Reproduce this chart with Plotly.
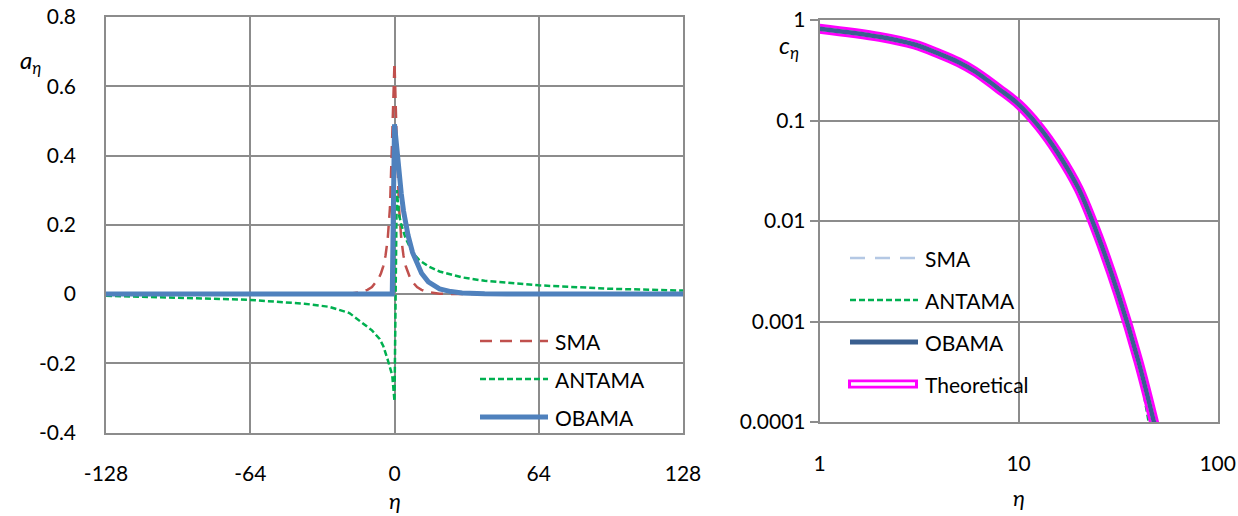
import plotly.graph_objects as go

W, H = 1238, 516

# ---------------- Left chart data (a_eta vs eta) ----------------
sma_eta = [-128, -25, -20, -15, -12, -10, -8, -7, -6, -5, -4, -3, -2, -1, 0,
           1, 2, 3, 4, 5, 6, 7, 8, 10, 12, 15, 20, 25, 128]
sma_a = [0, 0, 0.001, 0.005, 0.012, 0.02, 0.035, 0.045, 0.06, 0.08, 0.11, 0.16, 0.25, 0.44, 0.67,
         0.44, 0.25, 0.16, 0.11, 0.08, 0.06, 0.045, 0.035, 0.02, 0.012, 0.005, 0.001, 0, 0]

antama_eta = [-128, -96, -64, -40, -29, -20, -14, -10, -6.6, -5, -3, -2, -1, 0,
              1, 2, 3, 5, 8, 11, 15, 20, 30, 40, 64, 96, 128]
antama_a = [-0.005, -0.01, -0.017, -0.028, -0.037, -0.055, -0.085, -0.105, -0.13, -0.15, -0.19, -0.21, -0.235, -0.31,
            0.30, 0.23, 0.2, 0.16, 0.12, 0.098, 0.08, 0.065, 0.048, 0.038, 0.025, 0.015, 0.01]

obama_eta = [-128, -1, 0, 1, 2, 3, 4, 5, 6, 8, 10, 12, 15, 20, 25, 30, 40, 50, 128]
obama_a = [0, 0, 0.49, 0.41, 0.345, 0.29, 0.24, 0.2, 0.17, 0.12, 0.085, 0.06, 0.035, 0.015, 0.007, 0.003, 0.0005, 0, 0]

left_xticks = [-128, -64, 0, 64, 128]
left_yticks = [-0.4, -0.2, 0, 0.2, 0.4, 0.6, 0.8]
left_ytext = ["-0.4", "-0.2", "0", "0.2", "0.4", "0.6", "0.8"]

# ---------------- Right chart data (c_eta vs eta, log-log) ----------------
theo_eta = [1, 2, 3, 4, 5, 6, 7, 8, 10, 12.6, 15.8, 20, 25, 31.6, 40, 50]
theo_c = [0.82, 0.68, 0.57, 0.46, 0.38, 0.31, 0.25, 0.205, 0.145, 0.088, 0.047, 0.021, 0.0072,
          0.0019, 0.0004, 0.00007]
sma_c = theo_c
obama_c = theo_c
antama_r_eta = [1, 2, 3, 4, 5, 6, 7, 8, 10, 12.6, 15.8, 20, 25, 31.6, 40, 45, 48]
antama_c = [0.82, 0.68, 0.57, 0.46, 0.38, 0.31, 0.25, 0.205, 0.145, 0.088, 0.047, 0.021, 0.0072,
            0.0019, 0.00035, 0.0001, 0.00005]

right_xticks = [1, 10, 100]
right_xtext = ["1", "10", "100"]
right_yticks = [0.0001, 0.001, 0.01, 0.1, 1]
right_ytext = ["0.0001", "0.001", "0.01", "0.1", "1"]

FONT = "Lato"
GRID = "#8c8c8c"
RED = "#C0504D"
GREEN = "#00B050"
BLUE = "#4F81BD"
DBLUE = "#3A5F8F"
LBLUE = "#B4C8E4"
MAG = "#FF00FF"

fig = go.Figure()

# left traces
fig.add_trace(go.Scatter(x=sma_eta, y=sma_a, mode="lines", name="SMA",
                         line=dict(color=RED, width=2.5, dash="12px,8px"), xaxis="x", yaxis="y"))
fig.add_trace(go.Scatter(x=antama_eta, y=antama_a, mode="lines", name="ANTAMA",
                         line=dict(color=GREEN, width=2.5, dash="6px,3px"), xaxis="x", yaxis="y"))
fig.add_trace(go.Scatter(x=obama_eta, y=obama_a, mode="lines", name="OBAMA",
                         line=dict(color=BLUE, width=5), xaxis="x", yaxis="y"))

# right traces
sp = dict(shape="spline", smoothing=1.0)
fig.add_trace(go.Scatter(x=theo_eta, y=sma_c, mode="lines", name="SMA",
                         line=dict(color=LBLUE, width=2.5, dash="15px,10px", **sp), xaxis="x2", yaxis="y2"))
fig.add_trace(go.Scatter(x=antama_r_eta, y=antama_c, mode="lines", name="ANTAMA",
                         line=dict(color=GREEN, width=2.5, dash="6px,3px", **sp), xaxis="x2", yaxis="y2"))
fig.add_trace(go.Scatter(x=theo_eta, y=theo_c, mode="lines", name="Theoretical",
                         line=dict(color=MAG, width=10, **sp), xaxis="x2", yaxis="y2"))
fig.add_trace(go.Scatter(x=theo_eta, y=theo_c, mode="lines", name="Theoretical inner",
                         line=dict(color="white", width=4, **sp), xaxis="x2", yaxis="y2"))
fig.add_trace(go.Scatter(x=theo_eta, y=obama_c, mode="lines", name="OBAMA",
                         line=dict(color=DBLUE, width=4.5, **sp), xaxis="x2", yaxis="y2"))


def px(x):
    return x / W


def py(y):
    return 1 - y / H


tickfont = dict(family=FONT, size=21, color="black")
axis_common = dict(showgrid=True, gridcolor=GRID, gridwidth=1.5, zeroline=False,
                   showline=True, mirror=True, linecolor=GRID, linewidth=1.5,
                   tickfont=tickfont, automargin=False)

fig.update_layout(
    width=W, height=H, margin=dict(l=0, r=0, t=0, b=0),
    paper_bgcolor="white", plot_bgcolor="white", showlegend=False,
    xaxis=dict(domain=[px(106), px(683)], range=[-128, 128], tickmode="array",
               tickvals=left_xticks, ticktext=[str(v) for v in left_xticks],
               ticks="outside", ticklen=22, tickcolor="rgba(0,0,0,0)", anchor="y", **axis_common),
    yaxis=dict(domain=[py(432.5), py(17)], range=[-0.4, 0.8], tickmode="array",
               tickvals=left_yticks, ticktext=left_ytext,
               ticks="outside", ticklen=24, tickcolor="rgba(0,0,0,0)", anchor="x", **axis_common),
    xaxis2=dict(domain=[px(819.5), px(1217.7)], type="log", range=[0, 2], tickmode="array",
                tickvals=right_xticks, ticktext=right_xtext,
                ticks="outside", ticklen=22, tickcolor="rgba(0,0,0,0)", anchor="y2", **axis_common),
    yaxis2=dict(domain=[py(422), py(20)], type="log", range=[-4, 0], tickmode="array",
                tickvals=right_yticks, ticktext=right_ytext,
                ticks="outside", ticklen=8, tickcolor=GRID, tickwidth=1.5, anchor="x2", **axis_common),
)

shapes = []
annotations = []


def legend_item(x0, x1, y, text, color, width, dash="solid", double=False):
    if double:
        shapes.append(dict(type="line", xref="paper", yref="paper", x0=px(x0), x1=px(x1),
                           y0=py(y), y1=py(y), line=dict(color=MAG, width=9)))
        shapes.append(dict(type="line", xref="paper", yref="paper", x0=px(x0 + 3), x1=px(x1 - 3),
                           y0=py(y), y1=py(y), line=dict(color="white", width=3.5)))
    else:
        shapes.append(dict(type="line", xref="paper", yref="paper", x0=px(x0), x1=px(x1),
                           y0=py(y), y1=py(y), line=dict(color=color, width=width, dash=dash)))
    annotations.append(dict(x=px(x1 + 5), y=py(y), xref="paper", yref="paper", text=text,
                            showarrow=False, xanchor="left", yanchor="middle",
                            font=dict(family=FONT, size=21, color="black")))


# left legend
legend_item(480, 548, 341, "SMA", RED, 2.5, "12px,8px")
legend_item(480, 548, 379, "ANTAMA", GREEN, 2.5, "6px,3px")
legend_item(480, 548, 417, "OBAMA", BLUE, 5)
# right legend
legend_item(850, 918, 258, "SMA", LBLUE, 2.5, "15px,10px")
legend_item(850, 918, 300, "ANTAMA", GREEN, 2.5, "6px,3px")
legend_item(850, 918, 342, "OBAMA", DBLUE, 5)
legend_item(848, 918, 384, "Theoretical", MAG, 9, double=True)

# axis titles
title_font = dict(family=FONT, size=24, color="black")
annotations.append(dict(x=px(30), y=py(62), xref="paper", yref="paper",
                        text="<i>a</i><sub><i>η</i></sub>", showarrow=False,
                        xanchor="center", yanchor="middle", font=title_font))
annotations.append(dict(x=px(395), y=py(500), xref="paper", yref="paper",
                        text="<i>η</i>", showarrow=False,
                        xanchor="center", yanchor="middle", font=dict(family=FONT, size=22, color="black")))
annotations.append(dict(x=px(789), y=py(47), xref="paper", yref="paper",
                        text="<i>c</i><sub><i>η</i></sub>", showarrow=False,
                        xanchor="center", yanchor="middle", font=title_font))
annotations.append(dict(x=px(1019), y=py(497), xref="paper", yref="paper",
                        text="<i>η</i>", showarrow=False,
                        xanchor="center", yanchor="middle", font=dict(family=FONT, size=22, color="black")))

fig.update_layout(shapes=shapes, annotations=annotations)

fig.write_html("out.html")
